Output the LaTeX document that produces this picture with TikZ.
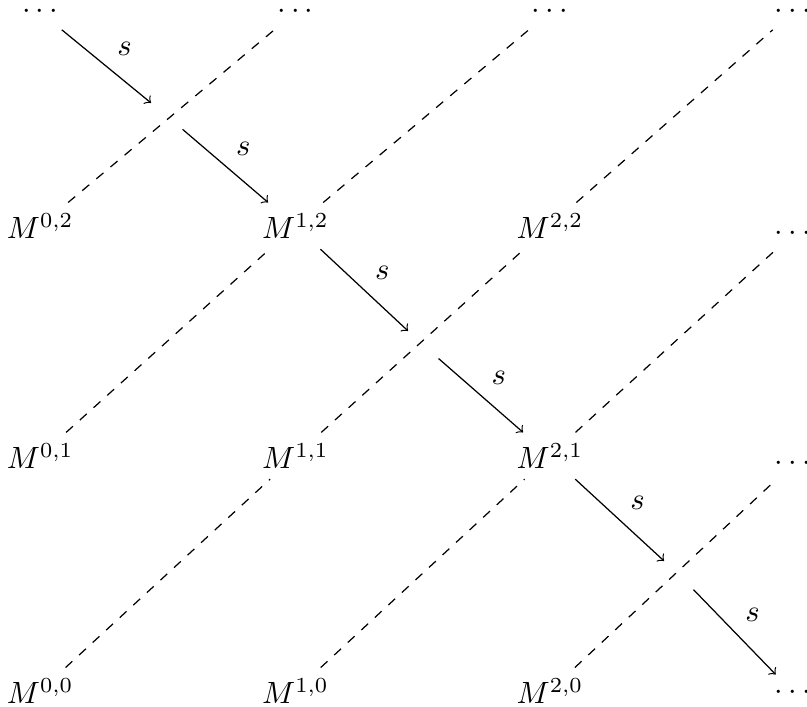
\documentclass[tikz,border=0pt]{standalone}
\begin{document}
\begin{tikzpicture}[cell/.style={anchor=base},
		cross/.style={circle,inner sep=0pt,minimum size=13pt},
		dual/.style={dashed},
		smap/.style={->}]
			\useasboundingbox (0,0) rectangle (9.232,8.077);
			\node[cell] (d03) at (0.46,7.86) {$\cdots$};
			\node[cell] (d13) at (3.38,7.86) {$\cdots$};
			\node[cell] (d23) at (6.29,7.86) {$\cdots$};
			\node[cell] (d33) at (9.07,7.86) {$\cdots$};
			\node[cell] (m02) at (0.46,5.35) {$M^{0,2}$};
			\node[cell] (m12) at (3.38,5.35) {$M^{1,2}$};
			\node[cell] (m22) at (6.29,5.35) {$M^{2,2}$};
			\node[cell] (d32) at (9.07,5.32) {$\cdots$};
			\node[cell] (m01) at (0.46,2.72) {$M^{0,1}$};
			\node[cell] (m11) at (3.38,2.72) {$M^{1,1}$};
			\node[cell] (m21) at (6.29,2.72) {$M^{2,1}$};
			\node[cell] (d31) at (9.07,2.69) {$\cdots$};
			\node[cell] (m00) at (0.46,0.03) {$M^{0,0}$};
			\node[cell] (m10) at (3.38,0.03) {$M^{1,0}$};
			\node[cell] (m20) at (6.29,0.03) {$M^{2,0}$};
			\node[cell] (d30) at (9.07,0.08) {$\cdots$};
			\node[cross] (x1) at (1.91,6.75) {};
			\node[cross] (x2) at (4.84,4.13) {};
			\node[cross] (x3) at (7.77,1.50) {};
			% dashed diagonals
			\draw[dual] (m00) -- (m11);
			\draw[dual] (m01) -- (m12);
			\draw[dual] (m02) -- (d13);
			\draw[dual] (m10) -- (m21);
			\draw[dual] (m11) -- (m22);
			\draw[dual] (m12) -- (d23);
			\draw[dual] (m20) -- (d31);
			\draw[dual] (m21) -- (d32);
			\draw[dual] (m22) -- (d33);
			% the maps s
			\draw[smap] (d03) -- node[auto] {$s$} (x1);
			\draw[smap] (x1) -- node[auto] {$s$} (m12);
			\draw[smap] (m12) -- node[auto] {$s$} (x2);
			\draw[smap] (x2) -- node[auto] {$s$} (m21);
			\draw[smap] (m21) -- node[auto] {$s$} (x3);
			\draw[smap] (x3) -- node[auto] {$s$} (d30);
		\end{tikzpicture}
\end{document}
